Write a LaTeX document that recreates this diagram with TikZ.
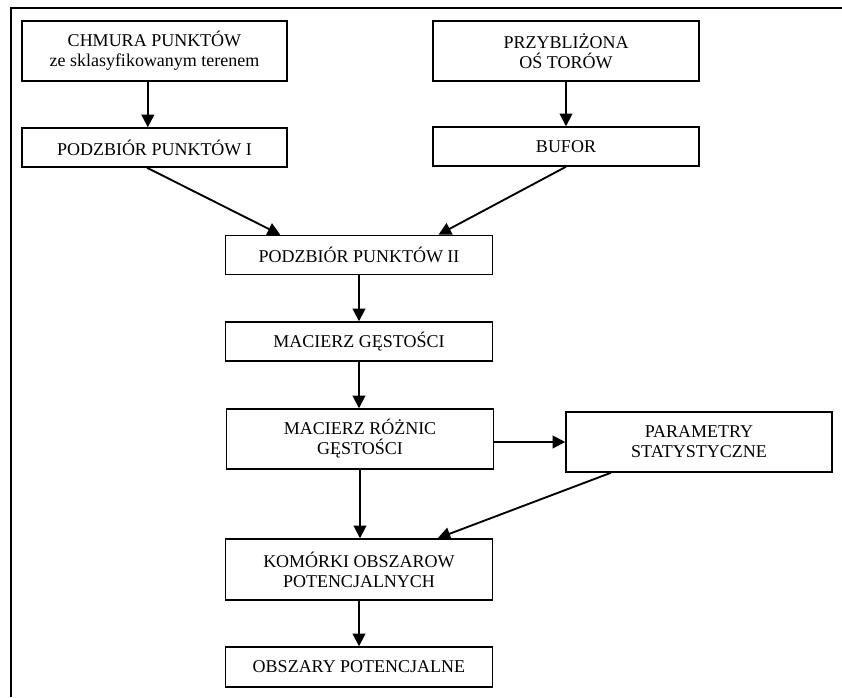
\documentclass[tikz,border=0pt]{standalone}
\usepackage{fontspec}
\setmainfont{Liberation Serif}
\usetikzlibrary{arrows.meta}

\tikzset{
  blok/.style={draw, line width=1.1pt, align=center, inner sep=0pt,
    font=\fontsize{13.5}{15}\selectfont},
  pil/.style={line width=1.4pt, -{Triangle[length=9.5pt, width=9.5pt]}},
}

\begin{document}
\begin{tikzpicture}[x=0.75pt, y=-0.75pt]
  \useasboundingbox (0,0) rectangle (842,697);
  % ramka
  \draw[line width=2.2pt] (11,697) -- (11,8) -- (842,8);

  \node[blok, minimum width=265*0.75pt, minimum height=60*0.75pt] (A) at (154.5,51)
    {CHMURA PUNKTÓW\\ze sklasyfikowanym terenem};
  \node[blok, minimum width=265*0.75pt, minimum height=39*0.75pt] (B) at (154.5,147.5)
    {PODZBIÓR PUNKTÓW I};
  \node[blok, minimum width=266*0.75pt, minimum height=60*0.75pt] (C) at (566,51)
    {PRZYBLIŻONA\\OŚ TORÓW};
  \node[blok, minimum width=266*0.75pt, minimum height=39*0.75pt] (D) at (566,146.5)
    {BUFOR};
  \node[blok, minimum width=267*0.75pt, minimum height=39*0.75pt] (E) at (359,255)
    {PODZBIÓR PUNKTÓW II};
  \node[blok, minimum width=267*0.75pt, minimum height=39*0.75pt] (F) at (359,341.5)
    {MACIERZ GĘSTOŚCI};
  \node[blok, minimum width=267*0.75pt, minimum height=60*0.75pt] (G) at (360,439)
    {MACIERZ RÓŻNIC\\GĘSTOŚCI};
  \node[blok, minimum width=266*0.75pt, minimum height=60*0.75pt] (H) at (699,442)
    {PARAMETRY\\STATYSTYCZNE};
  \node[blok, minimum width=267*0.75pt, minimum height=61*0.75pt] (I) at (359,569.5)
    {KOMÓRKI OBSZAROW\\POTENCJALNYCH};
  \node[blok, minimum width=267*0.75pt, minimum height=40*0.75pt] (J) at (359,667)
    {OBSZARY POTENCJALNE};

  \draw[pil] ([xshift=-5pt]A.south) -- ([xshift=-5pt]B.north);
  \draw[pil] (C) -- (D);
  \draw[pil] ([xshift=-5.6pt]B.south) -- ([xshift=-59pt]E.north);
  \draw[pil] (D.south) -- ([xshift=59.6pt]E.north);
  \draw[pil] (E) -- (F);
  \draw[pil] (F) -- (F |- G.north);
  \draw[pil] (G.east |- H) -- (H.west);
  \draw[pil] (G) -- (G |- I.north);
  \draw[pil] ([xshift=-66pt]H.south) -- ([xshift=59pt]I.north);
  \draw[pil] (I) -- (J);
\end{tikzpicture}
\end{document}
